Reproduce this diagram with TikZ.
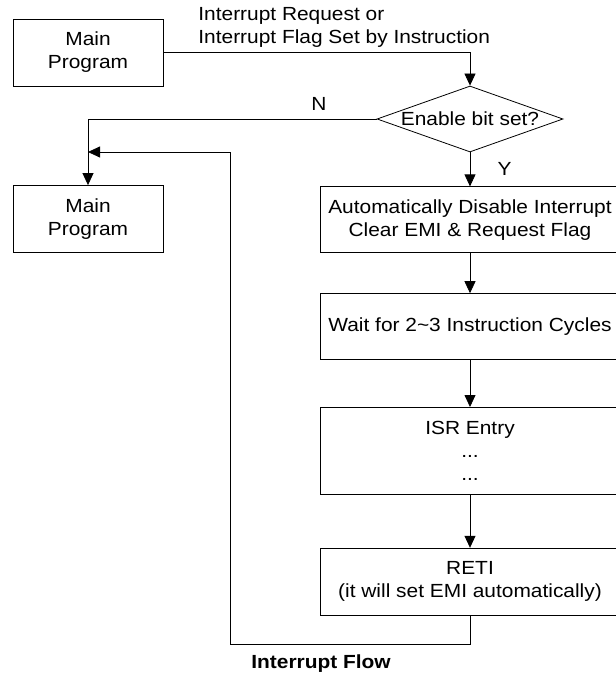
\documentclass[tikz,border=0pt]{standalone}
\usepackage{fontspec}
\setmainfont[FakeStretch=1.1]{Liberation Sans}
\usetikzlibrary{positioning,arrows.meta,shapes.geometric}

\begin{document}
\begin{tikzpicture}[
    x=1pt, y=-1pt,
    font=\fontsize{19}{23}\selectfont,
    block/.style={draw, minimum width=150pt, minimum height=67pt, align=center},
    stepbox/.style={draw, minimum width=300pt, minimum height=66pt, align=center},
    decision/.style={draw, diamond, aspect=2.8, inner sep=0pt, minimum width=186pt, minimum height=66pt},
    arrow/.style={-{Triangle[length=12pt,width=11pt]}, line width=0.8pt},
    line width=0.8pt
]
\useasboundingbox (0,0) rectangle (615,676);

\node[block] (main1) at (88,52.5) {Main\\Program};
\node[anchor=west, align=left, inner sep=0pt] (req) at (198,27) {Interrupt Request or\\Interrupt Flag Set by Instruction};
\node[decision] (cond) at (470,119) {Enable bit set?};
\node[block] (main2) at (88,219) {Main\\Program};

\node[stepbox, below=34pt of cond] (clear) {Automatically Disable Interrupt\\Clear EMI \& Request Flag};
\node[stepbox, below=40pt of clear] (wait) {Wait for 2\textasciitilde 3 Instruction Cycles};
\node[stepbox, below=47pt of wait, minimum height=87pt] (isr) {ISR Entry\\...\\...};
\node[stepbox, below=53pt of isr, minimum height=67pt] (reti) {RETI\\(it will set EMI automatically)};

\coordinate (corner) at (230,644);
\coordinate (join) at (88,152);

\draw[arrow] (main1.east) -| (cond.north);
\draw[arrow] (cond.west) -| node[pos=0.1, above=5pt]{N} (main2.north);
\draw[arrow] (cond.south) -- node[right=24pt]{Y} (clear.north);
\draw[arrow] (clear) -- (wait);
\draw[arrow] (wait) -- (isr);
\draw[arrow] (isr) -- (reti);
\draw[arrow] (reti.south) |- (corner) |- (join);

\node[font=\fontsize{19}{23}\selectfont\bfseries] (title) at (321,664) {Interrupt Flow};
\end{tikzpicture}
\end{document}
